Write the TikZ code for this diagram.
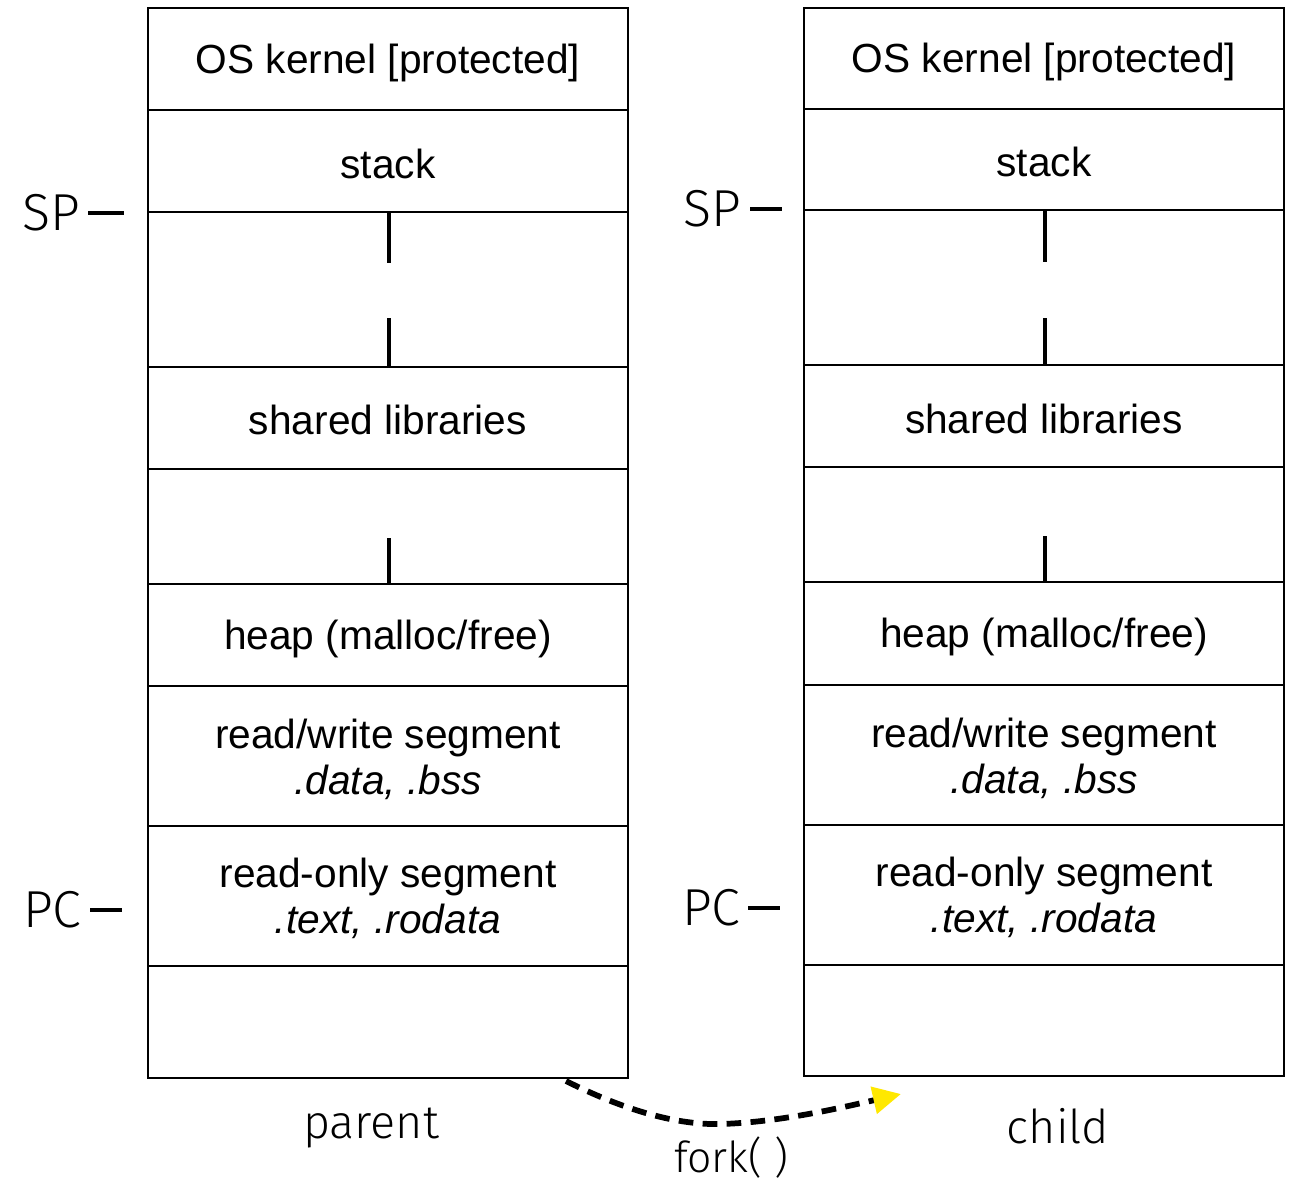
\documentclass[tikz,border=0pt]{standalone}
\usepackage{fontspec}
\setmainfont{Liberation Sans}
\newfontfamily\lightfont{Fira Sans Light}
\usetikzlibrary{arrows.meta}
\definecolor{forkyellow}{RGB}{255,232,0}

\tikzset{every picture/.style={line width=0.75pt}}
\tikzset{
  seg/.style={font=\fontsize{30.5}{34.5}\selectfont, inner sep=0.75pt, align=center},
  tag/.style={font=\lightfont\fontsize{39}{44}\selectfont, inner sep=0.75pt, anchor=east},
  owner/.style={font=\lightfont\fontsize{35}{42}\selectfont, inner sep=0.75pt, anchor=base},
  frame/.style={line width=1.5pt},
  tick/.style={line width=3pt},
  forkline/.style={line width=4.3pt, dash pattern=on 11pt off 7pt,
    -{Triangle[length=21pt,width=20pt,color=forkyellow]}}
}

\begin{document}
\begin{tikzpicture}[x=0.75pt,y=0.75pt,yscale=-1,xscale=1]
%set diagram left start at 0, and has height of 1181
\useasboundingbox (0,0) rectangle (1289,1181);

%Shape: Rectangle [parent address space]
\draw [frame] (148,8) rectangle (628,1078);
%Straight Lines [parent segments]
\draw [frame] (148,110) -- (628,110);
\draw [frame] (148,212) -- (628,212);
\draw [frame] (148,367) -- (628,367);
\draw [frame] (148,469) -- (628,469);
\draw [frame] (148,584) -- (628,584);
\draw [frame] (148,686) -- (628,686);
\draw [frame] (148,826) -- (628,826);
\draw [frame] (148,966) -- (628,966);
%Straight Lines [parent growth marks]
\draw [tick] (389,212) -- (389,263);
\draw [tick] (389,318) -- (389,367);
\draw [tick] (389,538) -- (389,584);

% Text Node
\draw (388,63) node (pkernel) [seg] {OS kernel [protected]};
% Text Node
\draw (388,164) node (pstack) [seg] {stack};
% Text Node
\draw (388,420) node (pshlib) [seg] {shared libraries};
% Text Node
\draw (388,639) node (pheap) [seg] {heap (malloc/free)};
% Text Node
\draw (388,759) node (prw) [seg] {read/write segment\\\textit{.data, .bss}};
% Text Node
\draw (388,898) node (pro) [seg] {read-only segment\\\textit{.text, .rodata}};

% Text Node
\draw (82,213) node (psp) [tag] {SP};
\draw [tick] (psp.east) ++(6,0) -- ++(36,0);
% Text Node
\draw (83,910) node (ppc) [tag] {PC};
\draw [tick] (ppc.east) ++(7,0) -- ++(32,0);

%Shape: Rectangle [child address space]
\draw [frame] (804,8) rectangle (1284,1076);
%Straight Lines [child segments]
\draw [frame] (804,109) -- (1284,109);
\draw [frame] (804,210) -- (1284,210);
\draw [frame] (804,365) -- (1284,365);
\draw [frame] (804,467) -- (1284,467);
\draw [frame] (804,582) -- (1284,582);
\draw [frame] (804,685) -- (1284,685);
\draw [frame] (804,825) -- (1284,825);
\draw [frame] (804,965) -- (1284,965);
%Straight Lines [child growth marks]
\draw [tick] (1045,210) -- (1045,262);
\draw [tick] (1045,318) -- (1045,365);
\draw [tick] (1045,536) -- (1045,582);

% Text Node
\draw (1044,62) node (ckernel) [seg] {OS kernel [protected]};
% Text Node
\draw (1044,162) node (cstack) [seg] {stack};
% Text Node
\draw (1044,419) node (cshlib) [seg] {shared libraries};
% Text Node
\draw (1044,637) node (cheap) [seg] {heap (malloc/free)};
% Text Node
\draw (1044,758) node (crw) [seg] {read/write segment\\\textit{.data, .bss}};
% Text Node
\draw (1044,897) node (cro) [seg] {read-only segment\\\textit{.text, .rodata}};

% Text Node
\draw (743,209) node (csp) [tag] {SP};
\draw [tick] (csp.east) ++(7,0) -- ++(32,0);
% Text Node
\draw (742,908) node (cpc) [tag] {PC};
\draw [tick] (cpc.east) ++(6,0) -- ++(32,0);

% Text Node
\draw (371,1138) node (parent) [owner] {parent};
% Text Node
\draw (1058,1143) node (child) [owner] {child};
% Text Node
\draw (731,1172) node (fork) [owner, font=\lightfont\fontsize{32}{38}\selectfont] {fork( )};

%Curve Lines [fork]
\coordinate (forkstart) at (566,1081);
\coordinate (forkend) at (901,1094);
\draw [forkline] (forkstart) .. controls (640,1118) and (690,1125) .. (722,1124) .. controls (780,1122) and (840,1108) .. (forkend);

\end{tikzpicture}
\end{document}
